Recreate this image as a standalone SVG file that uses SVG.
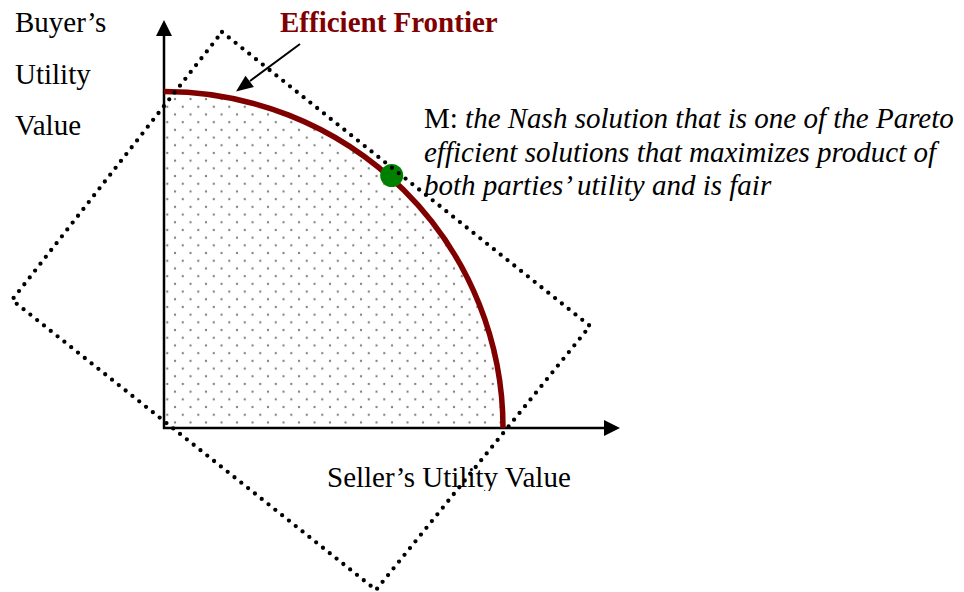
<svg xmlns="http://www.w3.org/2000/svg" width="964" height="592" viewBox="0 0 964 592">
  <style>
    .t { font-family: "Liberation Serif", "Times New Roman", serif; font-size: 29px; fill: #000; }
    .it { font-style: italic; }
    .title { font-weight: bold; fill: #800000; }
    .axis { stroke: #000; stroke-width: 2.5; fill: none; }
    .dots { stroke: #000; stroke-width: 4.3; stroke-linecap: round; stroke-dasharray: 0 8.7; fill: none; }
  </style>
  <defs>
    <pattern id="dotfill" patternUnits="userSpaceOnUse" x="163.4" y="380.1" width="15.5" height="15.4">
      <circle cx="3.875" cy="3.85" r="1.15" fill="#808080"/>
      <circle cx="11.625" cy="11.55" r="1.15" fill="#808080"/>
    </pattern>
    <clipPath id="clipBottom">
      <rect x="0" y="0" width="964" height="491"/>
    </clipPath>
  </defs>
  <rect width="964" height="592" fill="#fff"/>

  <g id="feasible-region">
    <path d="M164,428 L164,91.5 A339,336.5 0 0 1 503,428 Z" fill="url(#dotfill)"/>
  </g>

  <g id="axes">
    <line class="axis" x1="164" y1="429" x2="164" y2="34"/>
    <path d="M164,20 L172,36 L156,36 Z" fill="#000"/>
    <line class="axis" x1="163" y1="428" x2="605" y2="428"/>
    <path d="M620,428 L604,420 L604,436 Z" fill="#000"/>
  </g>

  <g id="efficient-frontier">
    <path d="M164,91.5 A339,336.5 0 0 1 503,428" fill="none" stroke="#800000" stroke-width="5.5"/>
  </g>

  <g id="point-M">
    <circle cx="391.7" cy="175.5" r="11.5" fill="#008000"/>
  </g>

  <g id="bargaining-diamond">
    <path class="dots" d="M222,32 L590,326 L376,590 L12,300 Z"/>
  </g>

  <g id="connectors">
    <line x1="300" y1="44" x2="250" y2="81" stroke="#000" stroke-width="2"/>
    <path d="M236,91.5 L245.5,75.8 L253.9,87 Z" fill="#000"/>
  </g>

  <g id="label-buyer">
    <text class="t" x="15" y="32">Buyer’s</text>
    <text class="t" x="15" y="84">Utility</text>
    <text class="t" x="15" y="135">Value</text>
  </g>

  <g id="label-frontier">
    <text class="t title" x="280" y="32">Efficient Frontier</text>
  </g>

  <g id="label-M">
    <text class="t" x="424" y="128">M: <tspan class="it">the Nash solution that is one of the Pareto</tspan></text>
    <text class="t it" x="424" y="162">efficient solutions that maximizes product of</text>
    <text class="t it" x="424" y="195">both parties’ utility and is fair</text>
  </g>

  <g id="label-seller" clip-path="url(#clipBottom)">
    <text class="t" x="327" y="487">Seller’s Utility Value</text>
  </g>
</svg>
